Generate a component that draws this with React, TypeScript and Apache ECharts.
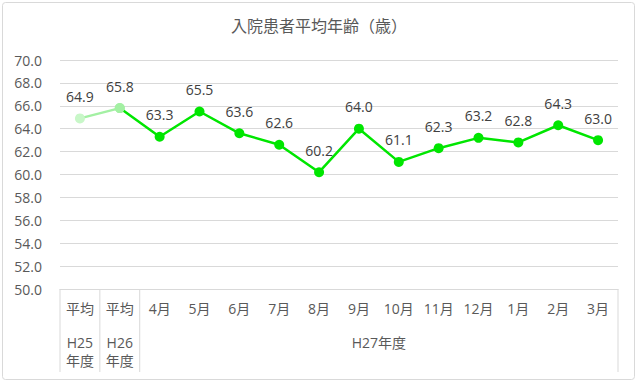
import React, { useEffect, useRef } from "react";
import * as echarts from "echarts";

const categories = ["平均", "平均", "4月", "5月", "6月", "7月", "8月", "9月", "10月", "11月", "12月", "1月", "2月", "3月"];
const subLabels = [["H25", "年度"], ["H26", "年度"]];
const groupLabel = "H27年度";
const values = [64.9, 65.8, 63.3, 65.5, 63.6, 62.6, 60.2, 64.0, 61.1, 62.3, 63.2, 62.8, 64.3, 63.0];
const yTicks = { min: 50, max: 70, interval: 2 };

const FONT = "'Open Sans', 'Noto Sans CJK JP', sans-serif";

export default function App() {
  const ref = useRef<HTMLDivElement>(null);
  useEffect(() => {
    document.body.style.margin = "0";
    if (!ref.current) return;
    const chart = echarts.init(ref.current, null, { renderer: "svg" });
    const pale = values.map((v, i) => (i <= 1 ? v : "-"));
    const main = values.map((v, i) =>
      i === 0 ? "-" : i === 1 ? { value: v, itemStyle: { color: "#a3f0a3" }, label: { show: false } } : v
    );
    const dataLabel = {
      show: true,
      position: "top",
      distance: 10,
      color: "#404040",
      fontSize: 14,
      fontFamily: FONT,
      formatter: (p: any) => Number(p.value).toFixed(1),
    };
    chart.setOption({
      animation: false,
      textStyle: { fontFamily: FONT },
      title: {
        text: "入院患者平均年齢（歳）",
        left: "center",
        top: 13,
        textStyle: { fontSize: 16, fontWeight: "normal", color: "#595959", fontFamily: FONT },
      },
      grid: { left: 60, right: 20, top: 60, bottom: 94 },
      xAxis: {
        type: "category",
        data: categories,
        boundaryGap: true,
        axisLine: { show: true, lineStyle: { color: "#d9d9d9" } },
        axisTick: { show: false },
        axisLabel: {
          interval: 0,
          margin: 12,
          color: "#595959",
          fontSize: 14,
          fontFamily: FONT,
        },
      },
      yAxis: {
        type: "value",
        min: yTicks.min,
        max: yTicks.max,
        interval: yTicks.interval,
        axisLine: { show: false },
        axisTick: { show: false },
        axisLabel: {
          color: "#595959",
          fontSize: 14,
          margin: 18,
          fontFamily: FONT,
          formatter: (v: number) => v.toFixed(1),
        },
        splitLine: { lineStyle: { color: "#d9d9d9" } },
      },
      series: [
        {
          type: "line",
          data: pale,
          symbol: "circle",
          symbolSize: 10,
          lineStyle: { color: "#a3f0a3", width: 2.5 },
          itemStyle: { color: (p: any) => (p.dataIndex === 0 ? "#c8f7c8" : "#a3f0a3") },
          label: dataLabel,
          z: 2,
        },
        {
          type: "line",
          data: main,
          symbol: "circle",
          symbolSize: 10,
          lineStyle: { color: "#00e600", width: 2.5 },
          itemStyle: { color: "#00e600" },
          label: dataLabel,
          z: 3,
        },
      ],
    });

    const px = (i: number) => chart.convertToPixel({ xAxisIndex: 0 }, i) as number;
    const band = px(1) - px(0);
    const boundary = (i: number) => px(0) - band / 2 + band * i;
    const y0 = chart.convertToPixel({ yAxisIndex: 0 }, yTicks.min) as number;
    const dividers = [0, 1, 2, categories.length].map((b) => ({
      type: "line",
      shape: { x1: boundary(b), y1: y0, x2: boundary(b), y2: y0 + 83 },
      style: { stroke: "#d9d9d9", lineWidth: 1 },
      silent: true,
    }));
    const textStyle = (text: string) => ({
      text,
      fill: "#595959",
      fontSize: 14,
      fontFamily: FONT,
      align: "center",
      verticalAlign: "middle",
    });
    const subTexts: any[] = [];
    subLabels.forEach((lines, i) => {
      lines.forEach((t, j) => {
        subTexts.push({ type: "text", x: px(i), y: y0 + 53 + j * 18, style: textStyle(t), silent: true });
      });
    });
    const groupCenter = (boundary(2) + boundary(categories.length)) / 2;
    chart.setOption({
      graphic: [
        {
          type: "rect",
          shape: { x: 2.5, y: 2.5, width: 632, height: 377, r: 3 },
          style: { fill: "none", stroke: "#d9d9d9", lineWidth: 1 },
          silent: true,
        },
        ...dividers,
        ...subTexts,
        { type: "text", x: groupCenter, y: y0 + 53, style: textStyle(groupLabel), silent: true },
      ],
    });
    return () => chart.dispose();
  }, []);
  return <div ref={ref} style={{ width: 638, height: 383 }} />;
}
